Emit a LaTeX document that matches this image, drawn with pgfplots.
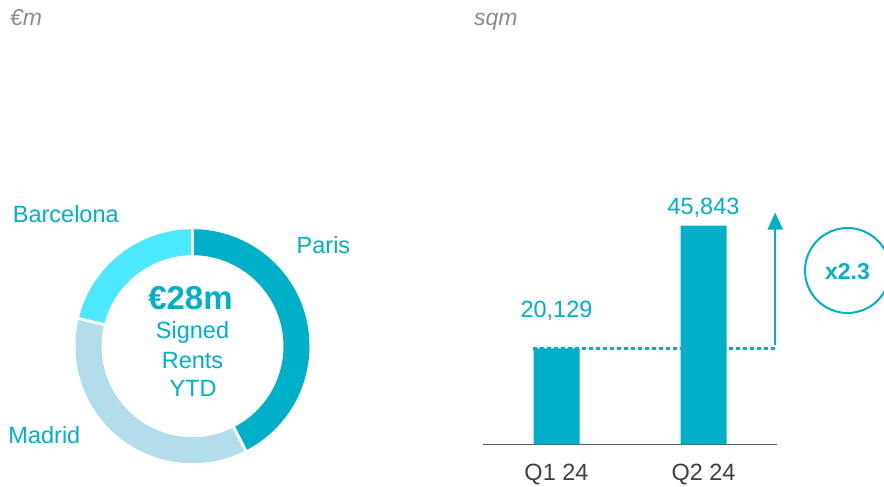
\documentclass[border=0pt]{standalone}
\usepackage{fontspec}
\setmainfont{Liberation Sans}
\usepackage{pgfplots}
\usepackage{pgfplotstable}
\pgfplotsset{compat=1.18}
\usetikzlibrary{arrows.meta}
\definecolor{teal1}{HTML}{00AFC8}
\definecolor{madridc}{HTML}{B2DDEA}
\definecolor{barcac}{HTML}{4BE8FF}
\definecolor{greyt}{HTML}{8C8C8C}
\definecolor{tickc}{HTML}{404040}
\definecolor{axisc}{HTML}{595959}

\pgfplotstableread{
city value
Paris 42.5
Madrid 36.3
Barcelona 21.2
}\donutdata
\pgfplotstableread{
x value
0 20129
1 45843
}\bardata

\newcommand{\lbl}{\fontsize{23.5bp}{28bp}\selectfont}

\begin{document}
\begin{tikzpicture}[x=1bp,y=1bp]
\path[use as bounding box] (0bp,0bp) rectangle (884bp,487bp);
\pgfplotstablegetelem{0}{value}\of\donutdata \pgfmathsetmacro\aA{90-3.6*\pgfplotsretval}
\pgfplotstablegetelem{1}{value}\of\donutdata \pgfmathsetmacro\aB{\aA-3.6*\pgfplotsretval}
\pgfplotstablegetelem{2}{value}\of\donutdata \pgfmathsetmacro\aC{\aB-3.6*\pgfplotsretval}

% donut
\begin{axis}[at={(0bp,0bp)}, anchor=south west, x=1bp, y=1bp,
  xmin=0, xmax=884, ymin=0, ymax=487, hide axis, clip=false]
  \draw[teal1, line width=26bp] (axis cs:192.5,140.8) ++(90:104bp) arc[start angle=90, end angle=\aA, radius=104bp];
  \draw[madridc, line width=26bp] (axis cs:192.5,140.8) ++(\aA:104bp) arc[start angle=\aA, end angle=\aB, radius=104bp];
  \draw[barcac, line width=26bp] (axis cs:192.5,140.8) ++(\aB:104bp) arc[start angle=\aB, end angle=\aC, radius=104bp];
  \draw[white, line width=3bp] (axis cs:192.5,140.8) ++(90:88bp) -- ++(90:32bp);
  \draw[white, line width=3bp] (axis cs:192.5,140.8) ++(\aA:88bp) -- ++(\aA:32bp);
  \draw[white, line width=3bp] (axis cs:192.5,140.8) ++(\aB:88bp) -- ++(\aB:32bp);
\end{axis}

% bars
\begin{axis}[at={(483bp,42.7bp)}, anchor=south west, scale only axis,
  width=294bp, height=238.45bp,
  xmin=-0.5, xmax=1.5, ymin=0, ymax=50000,
  ybar, bar width=46bp,
  axis x line=bottom, axis y line=none,
  x axis line style={-, draw=axisc, line width=1.5bp},
  xtick={0,1}, xticklabels={Q1 24,Q2 24}, major tick length=0pt,
  xticklabel style={font=\lbl, text=tickc, anchor=base, yshift=-35.7bp, inner sep=0pt},
  ytick=\empty, clip=false]
  \addplot[fill=teal1, draw=none] table[x=x, y=value]{\bardata};
  \draw[teal1, line width=3bp, dash pattern=on 4bp off 3bp] (axis cs:-0.157,20129) -- (axis cs:1.5,20129);
  \draw[teal1, line width=2bp, -{Triangle[width=15bp,length=17bp]}] (axis cs:1.488,20900) -- (axis cs:1.488,48600);
  \node[anchor=base, inner sep=0pt, text=teal1, font=\lbl, yshift=31bp] at (axis cs:0,20129) {20,129};
  \node[anchor=base, inner sep=0pt, text=teal1, font=\lbl, yshift=10.7bp] at (axis cs:1,45843) {45,843};
\end{axis}

% titles
\node[anchor=base west, inner sep=0pt, text=greyt, font=\fontsize{23bp}{27bp}\selectfont\itshape] at (10bp,461.5bp) {€m};
\node[anchor=base west, inner sep=0pt, text=greyt, font=\fontsize{23bp}{27bp}\selectfont\itshape] at (474bp,461.5bp) {sqm};

% donut labels
\node[anchor=base west, inner sep=0pt, text=teal1, font=\lbl] at (12.7bp,264.7bp) {Barcelona};
\node[anchor=base west, inner sep=0pt, text=teal1, font=\lbl] at (296.5bp,233.7bp) {Paris};
\node[anchor=base west, inner sep=0pt, text=teal1, font=\lbl] at (8.3bp,43bp) {Madrid};

% center text
\node[anchor=base, inner sep=0pt, text=teal1, font=\fontsize{33bp}{38bp}\selectfont\bfseries] at (190.5bp,177.7bp) {€28m};
\node[anchor=base, inner sep=0pt, text=teal1, font=\lbl] at (192.5bp,148bp) {Signed};
\node[anchor=base, inner sep=0pt, text=teal1, font=\lbl] at (192.5bp,118.7bp) {Rents};
\node[anchor=base, inner sep=0pt, text=teal1, font=\lbl] at (193bp,90.3bp) {YTD};

% multiplier badge
\draw[teal1, line width=2bp] (847.5bp,216.5bp) circle[radius=42.5bp];
\node[anchor=base, inner sep=0pt, text=teal1, font=\fontsize{23bp}{28bp}\selectfont\bfseries] at (847.5bp,207bp) {x2.3};
\end{tikzpicture}
\end{document}
